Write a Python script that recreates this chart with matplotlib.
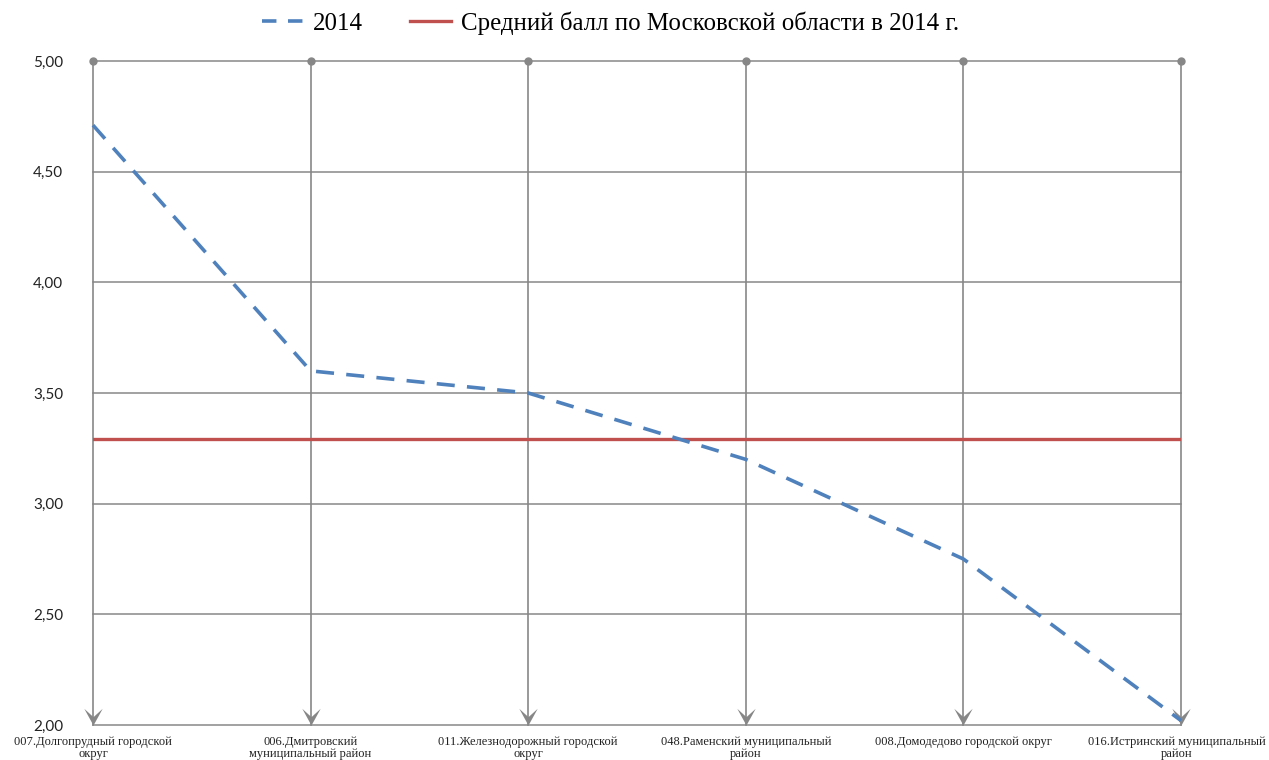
import matplotlib
matplotlib.use("Agg")
import matplotlib.pyplot as plt
from matplotlib.lines import Line2D
from matplotlib.path import Path
from matplotlib.transforms import ScaledTranslation

categories = [
    "007.Долгопрудный городской\nокруг",
    "006.Дмитровский\nмуниципальный район",
    "011.Железнодорожный городской\nокруг",
    "048.Раменский муниципальный\nрайон",
    "008.Домодедово городской округ",
    "016.Истринский муниципальный\nрайон",
]
values_2014 = [4.71, 3.60, 3.50, 3.20, 2.75, 2.02]
region_avg = 3.29
y_ticks = [2.0, 2.5, 3.0, 3.5, 4.0, 4.5, 5.0]
y_tick_labels = ["2,00", "2,50", "3,00", "3,50", "4,00", "4,50", "5,00"]

GRID = "#878787"
BLUE = "#4F81BD"
RED = "#C0504D"

fig = plt.figure(figsize=(12.69, 7.60), dpi=100)
ax = fig.add_axes([93/1269, 1-725/760, (1181-93)/1269, (725-61)/760])

x = list(range(len(categories)))
ax.set_xlim(0, len(categories) - 1)
ax.set_ylim(2.0, 5.0)

# horizontal gridlines
for yv in y_ticks:
    ax.axhline(yv, color=GRID, lw=1.1, zorder=1, clip_on=False)

# arrowhead marker (tip at the data point, pointing down)
arrow_path = Path([(0, 0), (-0.55, 1), (0, 0.5), (0.55, 1), (0, 0)],
                  [Path.MOVETO, Path.LINETO, Path.LINETO, Path.LINETO, Path.CLOSEPOLY])

# vertical drop lines with arrowheads and top dots
for xi in x:
    ax.plot([xi, xi], [2.0, 5.0], color=GRID, lw=1.2, zorder=2, clip_on=False)
    ax.plot([xi], [2.0], marker=arrow_path, ms=24, color=GRID, mew=0,
            zorder=3, clip_on=False)
    ax.plot([xi], [5.0], marker="o", ms=5, color=GRID, zorder=3, clip_on=False)

# series
ax.plot(x, values_2014, color=BLUE, lw=2.6, dashes=(5, 3.4), zorder=5,
        clip_on=False, dash_capstyle="butt")
ax.plot([x[0], x[-1]], [region_avg, region_avg], color=RED, lw=2.4, zorder=4)

for s in ax.spines.values():
    s.set_visible(False)

ax.set_yticks(y_ticks)
ax.set_yticklabels(y_tick_labels, family="Lato", fontsize=11, color="#222222")
ax.tick_params(axis="y", length=0, pad=21.5)
ax.set_xticks(x)
ax.set_xticklabels(categories, family="Liberation Serif", fontsize=9.0,
                   linespacing=1.0, color="#222222")
ax.tick_params(axis="x", length=0, pad=8)
last = ax.get_xticklabels()[-1]
last.set_transform(last.get_transform() + ScaledTranslation(-4/100, 0, fig.dpi_scale_trans))

handles = [
    Line2D([], [], color=BLUE, lw=2.6, dashes=(4, 3.2)),
    Line2D([], [], color=RED, lw=2.4),
]
fig.legend(handles, ["2014", "Средний балл по Московской области в 2014 г."],
           loc="center", bbox_to_anchor=(0.481, 1-23/760), ncol=2,
           frameon=False, prop={"family": "Liberation Serif", "size": 17.9},
           handlelength=1.65, handletextpad=0.4, columnspacing=1.9)

fig.savefig("out.png", dpi=100, facecolor="white")
